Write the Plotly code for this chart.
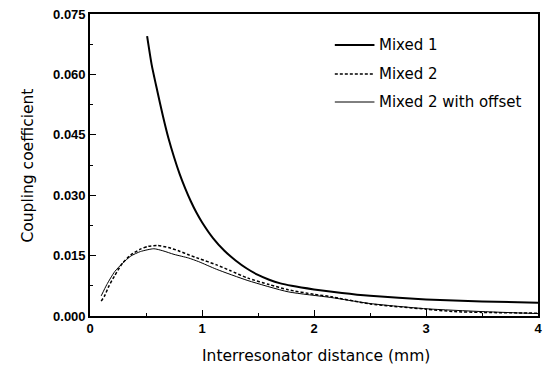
import plotly.graph_objects as go

# ---- data ----
mixed1_x = [0.51, 0.55, 0.60, 0.65, 0.70, 0.75, 0.80, 0.85, 0.90, 0.95, 1.0, 1.1, 1.2, 1.3,
            1.4, 1.5, 1.6, 1.7, 1.8, 2.0, 2.25, 2.5, 3.0, 3.5, 4.0]
mixed1_y = [0.0695, 0.0625, 0.0560, 0.0498, 0.0442, 0.0395, 0.0353, 0.0317, 0.0285, 0.0257,
            0.0233, 0.0193, 0.0162, 0.0138, 0.0118, 0.0102, 0.0090, 0.0081, 0.0075, 0.0066,
            0.0057, 0.0050, 0.0041, 0.0036, 0.0033]

mixed2_x = [0.10, 0.13, 0.17, 0.22, 0.29, 0.365, 0.45, 0.52, 0.60, 0.70, 0.80, 0.88, 0.97,
            1.13, 1.25, 1.41, 1.6, 1.77, 2.0, 2.15, 2.5, 3.0, 3.25, 3.5, 4.0]
mixed2_y = [0.0037, 0.0050, 0.0075, 0.0100, 0.0131, 0.0152, 0.0166, 0.0173, 0.0175, 0.0170,
            0.0161, 0.0152, 0.0143, 0.0127, 0.0113, 0.0094, 0.0078, 0.0065, 0.0054, 0.0048,
            0.0030, 0.0017, 0.0011, 0.0009, 0.0007]

offset_x = [0.10, 0.15, 0.22, 0.29, 0.365, 0.45, 0.57, 0.65, 0.75, 0.88, 0.97, 1.13, 1.41,
            1.77, 2.15, 2.5, 3.0, 3.5, 4.0]
offset_y = [0.0050, 0.0078, 0.0110, 0.0131, 0.0149, 0.0160, 0.0167, 0.0162, 0.0153, 0.0144,
            0.0135, 0.0116, 0.0088, 0.0060, 0.0046, 0.0031, 0.0018, 0.0011, 0.0006]

series_names = ["Mixed 1", "Mixed 2", "Mixed 2 with offset"]
x_title = "Interresonator distance (mm)"
y_title = "Coupling coefficient"

FONT = "DejaVu Sans, sans-serif"
TICKFONT = "Liberation Sans, Arial, sans-serif"
W, H = 547, 369
ML, MR, MT, MB = 90, 5, 14, 53

styles = [dict(color="black", width=2.0),
          dict(color="black", width=1.5, dash="3px,2px"),
          dict(color="black", width=1.0)]

fig = go.Figure()
for (xs, ys), name, st in zip([(mixed1_x, mixed1_y), (mixed2_x, mixed2_y), (offset_x, offset_y)],
                              series_names, styles):
    fig.add_trace(go.Scatter(x=xs, y=ys, mode="lines", name=name,
                             line=dict(shape="spline", smoothing=0.6, **st), showlegend=False))

# manual legend (paper coordinates)
pw, ph = W - ML - MR, H - MT - MB
def px_to_paper_x(px):
    return (px - ML) / pw
def px_to_paper_y(py):
    return 1 - (py - MT) / ph

legend_rows = [45, 74, 102]
for name, st, ry in zip(series_names, styles, legend_rows):
    fig.add_shape(type="line", xref="paper", yref="paper",
                  x0=px_to_paper_x(337), x1=px_to_paper_x(377),
                  y0=px_to_paper_y(ry), y1=px_to_paper_y(ry),
                  line=st)
    fig.add_annotation(xref="paper", yref="paper", x=px_to_paper_x(380), y=px_to_paper_y(ry),
                       text=name, showarrow=False, xanchor="left", yanchor="middle",
                       font=dict(family=FONT, size=15, color="black"))

# axis titles
fig.add_annotation(xref="paper", yref="paper", x=px_to_paper_x(318), y=px_to_paper_y(356),
                   text=x_title, showarrow=False, xanchor="center", yanchor="middle",
                   font=dict(family=FONT, size=15.5, color="black"))
fig.add_annotation(xref="paper", yref="paper", x=px_to_paper_x(27), y=px_to_paper_y(166),
                   text=y_title, showarrow=False, xanchor="center", yanchor="middle", textangle=-90,
                   font=dict(family=FONT, size=15.5, color="black"))

fig.update_xaxes(range=[0, 4], dtick=1, tick0=0, ticks="inside", ticklen=6, tickwidth=1.2,
                 tickcolor="black", showline=True, linecolor="black", linewidth=1.6, mirror=True,
                 showgrid=False, zeroline=False,
                 tickfont=dict(family=TICKFONT, size=13, color="black", weight="bold"),
                 minor=dict(dtick=0.5, ticks="inside", ticklen=3, tickcolor="black", tickwidth=1, showgrid=False))
fig.update_yaxes(range=[0, 0.075], dtick=0.015, tick0=0, tickformat=".3f", ticks="inside", ticklen=6,
                 tickwidth=1.2, tickcolor="black", showline=True, linecolor="black", linewidth=1.6,
                 mirror=True, showgrid=False, zeroline=False,
                 tickfont=dict(family=TICKFONT, size=13, color="black", weight="bold"),
                 minor=dict(dtick=0.0075, ticks="inside", ticklen=3, tickcolor="black", tickwidth=1, showgrid=False))

fig.update_layout(width=W, height=H, margin=dict(l=ML, r=MR, t=MT, b=MB),
                  paper_bgcolor="white", plot_bgcolor="white", showlegend=False,
                  font=dict(family=FONT, color="black"))

fig.write_html("out.html")
